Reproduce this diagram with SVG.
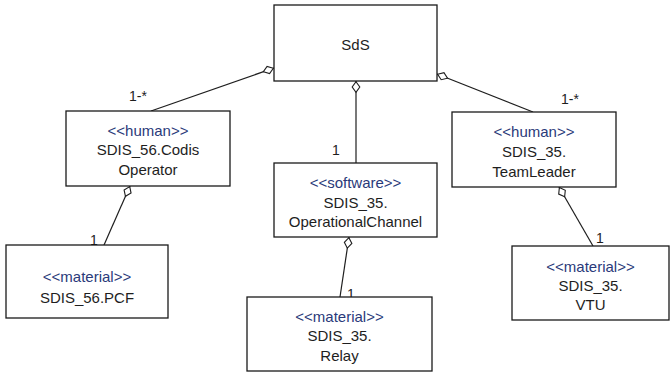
<svg xmlns="http://www.w3.org/2000/svg" width="671" height="374" viewBox="0 0 671 374">
<defs>
<style>
.box{fill:#fff;stroke:#1a1a1a;stroke-width:1.3}
.t{font-family:"Liberation Sans",Arial,sans-serif;font-size:15px;fill:#1e1e1e;text-anchor:middle}
.st{fill:#2a3a7a}
.lbl{font-family:"Liberation Sans",Arial,sans-serif;font-size:14px;fill:#1e1e1e;text-anchor:middle}
.c{stroke:#1e1e1e;stroke-width:1.2;fill:none;marker-start:url(#dia)}
</style>
<marker id="dia" markerUnits="userSpaceOnUse" markerWidth="14" markerHeight="12" refX="0" refY="6" viewBox="0 0 14 12" orient="auto">
<path d="M0.7,6 L6,2.2 L11.3,6 L6,9.8 Z" fill="#fff" stroke="#1e1e1e" stroke-width="1.1"/>
</marker>
</defs>
<g id="connectors">
<line class="c" x1="274" y1="68" x2="151" y2="111"/>
<line class="c" x1="437" y1="74" x2="533" y2="112"/>
<line class="c" x1="356" y1="81" x2="356" y2="163"/>
<line class="c" x1="130" y1="186" x2="104" y2="245"/>
<line class="c" x1="559" y1="187" x2="593" y2="246"/>
<line class="c" x1="349" y1="237" x2="340" y2="297"/>
<text class="lbl" x="138" y="101">1-*</text>
<text class="lbl" x="570" y="104">1-*</text>
<text class="lbl" x="336" y="155">1</text>
<text class="lbl" x="94" y="245">1</text>
<text class="lbl" x="600" y="243">1</text>
<text class="lbl" x="351" y="299">1</text>
</g>
<g id="SdS">
<rect class="box" x="274" y="5" width="163" height="76"/>
<text class="t" x="355.5" y="50">SdS</text>
</g>
<g id="CodisOperator">
<rect class="box" x="66" y="111" width="164" height="75"/>
<text class="t st" x="148" y="136">&lt;&lt;human&gt;&gt;</text>
<text class="t" x="148" y="155">SDIS_56.Codis</text>
<text class="t" x="148" y="175">Operator</text>
</g>
<g id="TeamLeader">
<rect class="box" x="452" y="112" width="164" height="75"/>
<text class="t st" x="534" y="137">&lt;&lt;human&gt;&gt;</text>
<text class="t" x="534" y="157">SDIS_35.</text>
<text class="t" x="534" y="177">TeamLeader</text>
</g>
<g id="OperationalChannel">
<rect class="box" x="274" y="163" width="163" height="74"/>
<text class="t st" x="355.5" y="188">&lt;&lt;software&gt;&gt;</text>
<text class="t" x="355.5" y="208">SDIS_35.</text>
<text class="t" x="355.5" y="227">OperationalChannel</text>
</g>
<g id="PCF">
<rect class="box" x="6" y="245" width="162" height="73"/>
<text class="t st" x="87" y="282">&lt;&lt;material&gt;&gt;</text>
<text class="t" x="87" y="303">SDIS_56.PCF</text>
</g>
<g id="Relay">
<rect class="box" x="247" y="297" width="185" height="74"/>
<text class="t st" x="339.5" y="322">&lt;&lt;material&gt;&gt;</text>
<text class="t" x="339.5" y="341">SDIS_35.</text>
<text class="t" x="339.5" y="361">Relay</text>
</g>
<g id="VTU">
<rect class="box" x="512" y="246" width="157" height="74"/>
<text class="t st" x="590.5" y="272">&lt;&lt;material&gt;&gt;</text>
<text class="t" x="590.5" y="291">SDIS_35.</text>
<text class="t" x="590.5" y="310">VTU</text>
</g>
</svg>
